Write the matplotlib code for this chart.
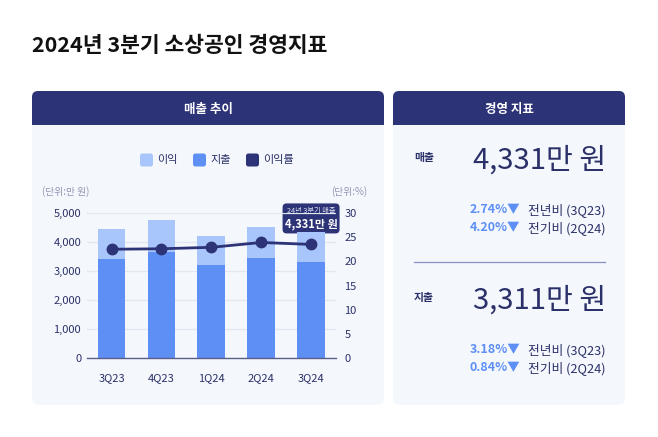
import matplotlib
matplotlib.use("Agg")
import matplotlib.pyplot as plt
from matplotlib.patches import FancyBboxPatch, Rectangle, Polygon

plt.rcParams['font.family'] = ['Noto Sans CJK KR', 'DejaVu Sans']

# ---- data ----
quarters = ["3Q23", "4Q23", "1Q24", "2Q24", "3Q24"]
revenue = [4450, 4760, 4200, 4530, 4331]
expense = [3410, 3650, 3200, 3450, 3311]
profit_rate = [22.5, 22.6, 22.9, 23.9, 23.5]
left_ticks = [0, 1000, 2000, 3000, 4000, 5000]
right_ticks = [0, 5, 10, 15, 20, 25, 30]

title = "2024년 3분기 소상공인 경영지표"
kpi_rev = "4,331만 원"
kpi_exp = "3,311만 원"
rev_changes = [("2.74%▼", "전년비 (3Q23)"), ("4.20%▼", "전기비 (2Q24)")]
exp_changes = [("3.18%▼", "전년비 (3Q23)"), ("0.84%▼", "전기비 (2Q24)")]

profit = [r - e for r, e in zip(revenue, expense)]

NAVY = "#2c3377"
TXT = "#2b3068"
LIGHT = "#a8c6fb"
MID = "#5e8ff5"
CARD = "#f4f8fd"
GRAY = "#9196b4"

W, H = 658, 437
fig = plt.figure(figsize=(W / 100, H / 100), dpi=100)
fig.patch.set_facecolor("white")

bg = fig.add_axes([0, 0, 1, 1])
bg.set_xlim(0, W)
bg.set_ylim(H, 0)
bg.axis("off")


def card(x0, x1, y0, y1, header_text):
    bg.add_patch(FancyBboxPatch((x0, y0), x1 - x0, y1 - y0,
                                boxstyle="round,pad=0,rounding_size=7",
                                fc=CARD, ec="none", zorder=1))
    hb = 125
    bg.add_patch(FancyBboxPatch((x0, y0), x1 - x0, hb - y0,
                                boxstyle="round,pad=0,rounding_size=6",
                                fc=NAVY, ec="none", zorder=2))
    bg.add_patch(Rectangle((x0, y0 + 10), x1 - x0, hb - y0 - 10,
                           fc=NAVY, ec="none", zorder=2))
    bg.text((x0 + x1) / 2, (y0 + hb) / 2 + 1, header_text, color="white",
            fontsize=9, fontweight="bold", ha="center", va="center", zorder=3)


bg.text(32, 45, title, fontsize=15.5, fontweight="bold", color="#111111",
        ha="left", va="center")

card(32, 384, 91, 405, "매출 추이")
card(393, 625, 91, 405, "경영 지표")

# legend
for (lx, col, lab) in [(140, LIGHT, "이익"), (193, MID, "지출"), (246, NAVY, "이익률")]:
    bg.add_patch(FancyBboxPatch((lx, 153.5), 13, 13,
                                boxstyle="round,pad=0,rounding_size=2.5",
                                fc=col, ec="none", zorder=3))
    bg.text(lx + 17, 160, lab, fontsize=8, color=TXT,
            ha="left", va="center", zorder=3)

bg.text(42, 192, "(단위:만 원)", fontsize=7, color=GRAY, ha="left", va="center")
bg.text(367, 192, "(단위:%)", fontsize=7, color=GRAY, ha="right", va="center")

# ---- chart ----
x0p, x1p, y0p, y1p = 86.7, 336, 213, 358
ax = fig.add_axes([x0p / W, (H - y1p) / H, (x1p - x0p) / W, (y1p - y0p) / H])
ax.set_facecolor("none")
xs = list(range(len(quarters)))
bw = 0.556
ax.bar(xs, expense, width=bw, color=MID, zorder=2)
ax.bar(xs, profit, bottom=expense, width=bw, color=LIGHT, zorder=2)
ax.set_xlim(-0.5, len(quarters) - 0.5)
ax.set_ylim(0, 5000)
ax.set_yticks(left_ticks)
ax.set_yticklabels([f"{v:,}" for v in left_ticks])
ax.set_xticks(xs)
ax.set_xticklabels(quarters)
ax.tick_params(axis="both", length=0, labelsize=8, colors=TXT)
ax.tick_params(axis="y", pad=4)
ax.tick_params(axis="x", pad=11)
for s in ["top", "right", "left"]:
    ax.spines[s].set_visible(False)
ax.spines["bottom"].set_color("#5a5f8a")
ax.spines["bottom"].set_linewidth(1.0)
ax.spines["bottom"].set_zorder(4)
ax.grid(axis="y", color="#e2e7f0", linewidth=0.9, zorder=0)
ax.set_axisbelow(True)

ax2 = ax.twinx()
ax2.set_ylim(0, 30)
ax2.set_yticks(right_ticks)
ax2.plot(xs, profit_rate, color=NAVY, linewidth=2.0, marker="o",
         markersize=7.5, zorder=5)
ax2.tick_params(axis="y", length=0, labelsize=8, colors=TXT, pad=6)
for s in ["top", "right", "left", "bottom"]:
    ax2.spines[s].set_visible(False)

# tooltip on last point
fig.canvas.draw()
dx, dy = ax2.transData.transform((xs[-1], profit_rate[-1]))
px, py = dx, H - dy
bw_px, bh_px = 57, 30
bx0 = px - bw_px / 2
by1 = py - 11
by0 = by1 - bh_px
bg.add_patch(FancyBboxPatch((bx0, by0), bw_px, bh_px,
                            boxstyle="round,pad=0,rounding_size=4",
                            fc=NAVY, ec="none", zorder=6))
bg.add_patch(Polygon([(px - 4.5, by1 - 0.5), (px + 4.5, by1 - 0.5), (px, by1 + 5)],
                     closed=True, fc=NAVY, ec="none", zorder=6))
bg.text(px, by0 + 8, "24년 3분기 매출", fontsize=5.2, color="#e0e4f5",
        ha="center", va="center", zorder=7)
bg.text(px, by0 + 20.5, kpi_rev, fontsize=8, color="white",
        fontweight="bold", ha="center", va="center", zorder=7)

# ---- KPI card ----
def kpi_block(label, value, changes, ylab, yval, ysub):
    bg.text(414, ylab, label, fontsize=7.8, fontweight="bold", color=TXT,
            ha="left", va="center")
    bg.text(606, yval, value, fontsize=21, color=TXT, ha="right",
            va="center")
    for i, (pct, txt) in enumerate(changes):
        yy = ysub + i * 18
        bg.text(520, yy, pct, fontsize=9, fontweight="bold", color=MID,
                ha="right", va="center")
        bg.text(605, yy, txt, fontsize=9.2, color=TXT,
                ha="right", va="center")


kpi_block("매출", kpi_rev, rev_changes, 158, 161, 210)
bg.plot([414, 605], [262, 262], color="#8a8fc0", linewidth=0.9)
kpi_block("지출", kpi_exp, exp_changes, 298, 301, 350)

fig.savefig("out.png", dpi=100, facecolor="white")
